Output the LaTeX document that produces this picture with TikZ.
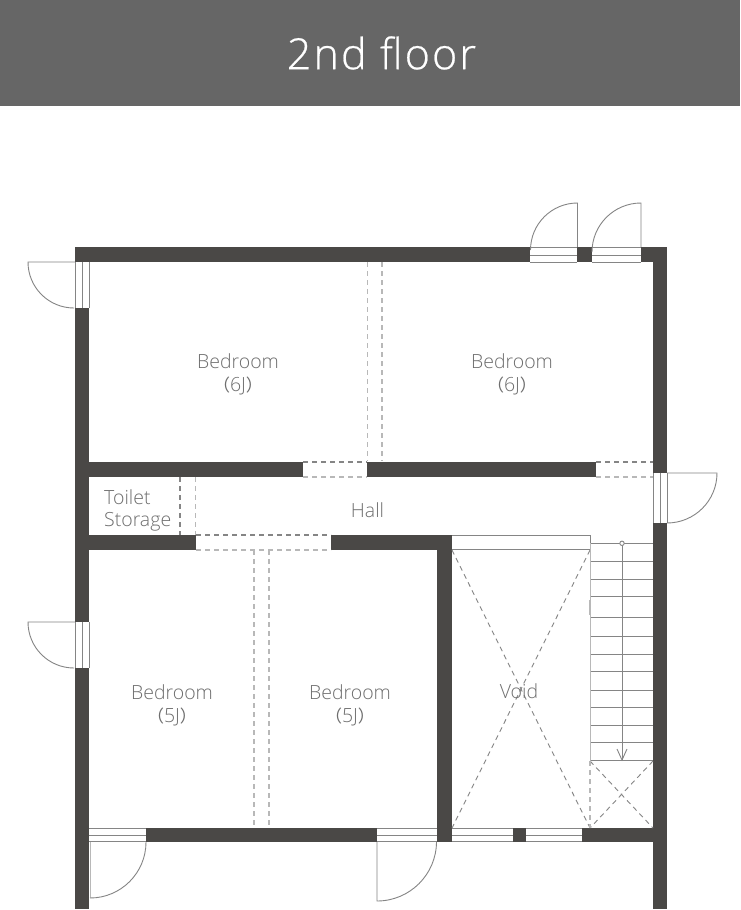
\documentclass[tikz,border=0pt]{standalone}
\usepackage{fontspec}
\setmainfont{Open Sans Light}[BoldFont={Open Sans}]
\newfontfamily\cjkfont{Noto Sans CJK JP}
\definecolor{wallc}{HTML}{4A4846}
\definecolor{bannerc}{HTML}{666666}
\definecolor{linec}{HTML}{858585}
\definecolor{lightc}{HTML}{B8B8B8}
\definecolor{textc}{HTML}{6E6E6E}
\tikzset{
  wall/.style={fill=wallc,draw=none},
  doorline/.style={draw=linec,line width=0.9pt},
  frameline/.style={draw=linec,line width=0.9pt},
  dashdark/.style={draw=linec,line width=1.2pt,dash pattern=on 5pt off 4pt},
  dashlight/.style={draw=lightc,line width=1.2pt,dash pattern=on 5pt off 4pt},
  tread/.style={draw=linec,line width=0.9pt},
  roomlabel/.style={text=textc,font=\fontsize{19.5}{23}\selectfont,align=center,inner sep=0pt},
}
\newcommand{\fwp}[1]{{\cjkfont\fontsize{17}{23}\selectfont （}#1{\cjkfont\fontsize{17}{23}\selectfont ）}}
\begin{document}
\begin{tikzpicture}[x=1pt,y=-1pt]
\useasboundingbox (0,0) rectangle (740,910);
\fill[white] (0,0) rectangle (740,910);
\fill[bannerc] (0,0) rectangle (740,106);
\node[text=white,font=\fontsize{43}{50}\selectfont,inner sep=0pt] (title) at (381.5,53) {\addfontfeature{LetterSpace=5,FakeBold=0.5}2nd floor};
% walls
\fill[wall] (75,247) rectangle (530,262);
\fill[wall] (577,247) rectangle (592,262);
\fill[wall] (641,247) rectangle (667,262);
\fill[wall] (653,247) rectangle (667,473);
\fill[wall] (653,523) rectangle (667,909);
\fill[wall] (75,247) rectangle (89,262);
\fill[wall] (75,308) rectangle (89,622);
\fill[wall] (75,668) rectangle (89,909);
\fill[wall] (89,462) rectangle (303,477);
\fill[wall] (367,462) rectangle (596,477);
\fill[wall] (89,535) rectangle (196,550);
\fill[wall] (331,535) rectangle (452,550);
\fill[wall] (437,535) rectangle (452,842);
\fill[wall] (146,828) rectangle (377,842);
\fill[wall] (513,828) rectangle (526,842);
\fill[wall] (582,828) rectangle (653,842);
% door frames (horizontal)
\foreach \a/\b in {530/577,592/641}{
  \foreach \y in {247.5,255,262}{\draw[frameline] (\a,\y) -- (\b,\y);}
}
\foreach \a/\b in {89/146,377/437,452/513,526/582}{
  \foreach \y in {828.5,835,841.5}{\draw[frameline] (\a,\y) -- (\b,\y);}
}
% door frames (vertical)
\foreach \a/\b in {262/308,622/668}{
  \foreach \x in {75,82,89}{\draw[frameline] (\x,\a) -- (\x,\b);}
}
\foreach \x in {653.5,660,667}{\draw[frameline] (\x,473) -- (\x,523);}
% door leaves and swings
\draw[doorline] (577.5,247) -- (577.5,203) arc[start angle=-90,end angle=-180,radius=47];
\draw[doorline] (641,247) -- (641,203) arc[start angle=-90,end angle=-180,radius=49];
\draw[doorline] (75,262) -- (28,262) arc[start angle=180,end angle=90,radius=46];
\draw[doorline] (75,622) -- (28,622) arc[start angle=180,end angle=90,radius=46];
\draw[doorline] (667,473) -- (717,473) arc[start angle=0,end angle=90,radius=50];
\draw[draw=lightc,line width=0.9pt] (90,842) -- (90,898);
\draw[doorline] (90,898) arc[start angle=90,end angle=0,radius=56];
\draw[doorline] (377,842) -- (377,901) arc[start angle=90,end angle=0,radius=59.5];
% partitions, dashed
\draw[dashlight] (367.5,262) -- (367.5,461);
\draw[dashlight] (382,262) -- (382,461);
\draw[dashlight] (254,550) -- (254,828);
\draw[dashlight] (269,550) -- (269,828);
\draw[dashdark] (180,477) -- (180,535);
\draw[dashlight] (195.5,477) -- (195.5,535);
\draw[dashdark] (303,462) -- (367,462);
\draw[dashlight] (303,477) -- (367,477);
\draw[dashdark] (596,462) -- (653,462);
\draw[dashlight] (596,477) -- (653,477);
\draw[dashdark] (196,535) -- (331,535);
\draw[dashlight] (196,550) -- (331,550);
% void
\draw[frameline] (452,535) -- (590,535) -- (590,549) -- (452,549);
\draw[dashdark,line width=0.9pt] (452,550) -- (590,828);
\draw[dashdark,line width=0.9pt] (590,550) -- (452,828);
% stairs
\foreach \y in {543.3,561.7,579.3,596.7,617.3,636.3,654,671.7,690,707.7,725,742.7,760.7}{
  \draw[tread] (590,\y) -- (653,\y);
}
\draw[draw=lightc,line width=1pt] (590,543) -- (590,761);
\draw[draw=lightc,line width=2pt] (590,600) -- (590,615);
\draw[tread] (622,543) -- (622,760);
\draw[tread] (617,749) -- (622,760) -- (627,749);
\draw[draw=linec,line width=0.9pt,fill=white] (622,543.3) circle[radius=2.2];
% landing
\draw[dashdark,line width=0.9pt] (590,761) -- (653,828);
\draw[dashdark,line width=0.9pt] (653,761) -- (590,828);
\draw[dashlight] (590,761) -- (590,828);
% labels
\node[roomlabel] (bed1) at (238,374) {Bedroom\\\fwp{6J}};
\node[roomlabel] (bed2) at (512,374) {Bedroom\\\fwp{6J}};
\node[roomlabel] (bed3) at (172,705) {Bedroom\\\fwp{5J}};
\node[roomlabel] (bed4) at (350,705) {Bedroom\\\fwp{5J}};
\node[roomlabel] (hall) at (367.5,510) {Hall};
\node[roomlabel] (void) at (519,691) {Void};
\node[roomlabel,align=left,anchor=west,font=\fontsize{19.5}{22}\selectfont] (toilet) at (104,510) {Toilet\\Storage};
\end{tikzpicture}
\end{document}
